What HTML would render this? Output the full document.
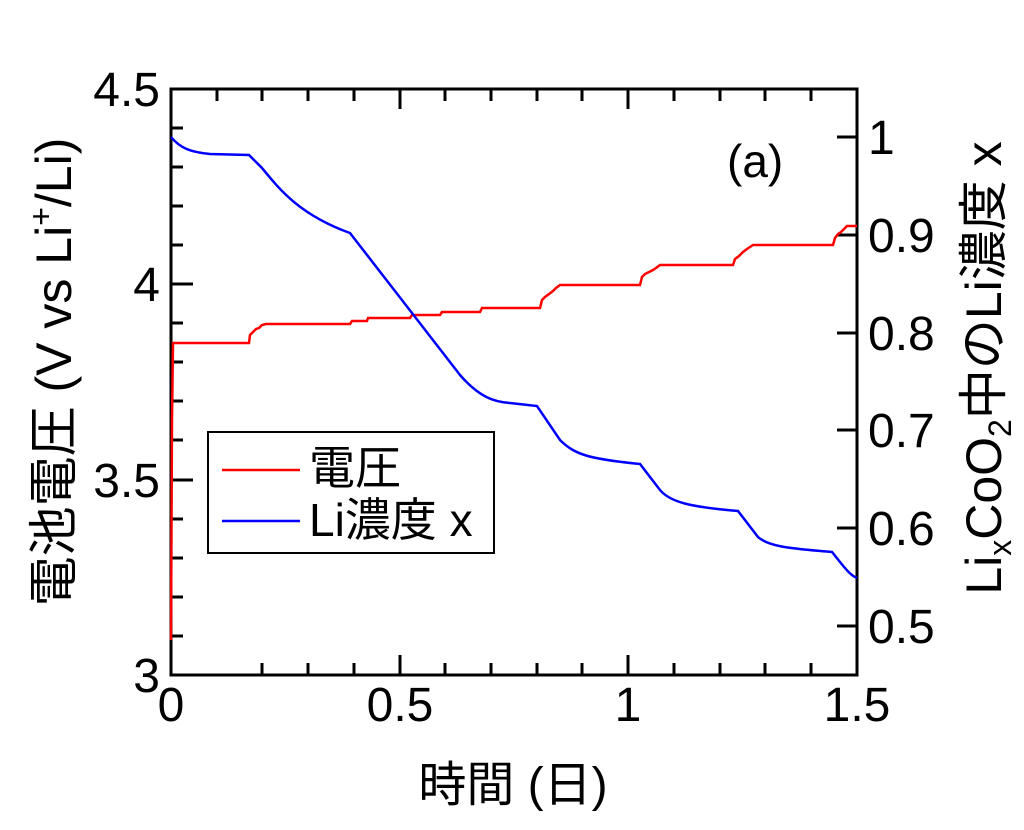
<!DOCTYPE html>
<html><head><meta charset="utf-8"><style>
body{margin:0;background:#fff}
svg text{font-family:"Liberation Sans","Noto Sans CJK JP",sans-serif;fill:#000}
</style></head><body>
<svg width="1024" height="825" viewBox="0 0 1024 825" xmlns="http://www.w3.org/2000/svg">
<g stroke="#000" stroke-width="3" fill="none">
<rect x="171" y="89" width="686" height="586"/>
<path d="M171 284h22M171 480h22M171 89h22
M171 128h12M171 167h12M171 206h12M171 245h12M171 323h12M171 362h12M171 401h12M171 440h12M171 519h12M171 558h12M171 597h12M171 636h12"/>
<path d="M857 137h-20M857 235h-20M857 333h-20M857 430h-20M857 528h-20M857 626h-20"/>
<path d="M400 675v-20M628 675v-20
M262 675v-12M308 675v-12M354 675v-12M445 675v-12M491 675v-12M537 675v-12M582 675v-12M674 675v-12M720 675v-12M765 675v-12M811 675v-12"/>
<path d="M400 89v20M628 89v20
M217 89v12M262 89v12M308 89v12M354 89v12M445 89v12M491 89v12M537 89v12M582 89v12M674 89v12M720 89v12M765 89v12M811 89v12"/>
</g>
<polyline fill="none" stroke="#ff0000" stroke-width="2.5" points="171,640 172,420 173,343 249,343 250,335 253,332 256,329 259,328 262,325 266,324 350,324 352,321 367,321 368,318 410,318 412,315 440,315 442,312 480,312 482,308 540,308 542,300 545,297 549,294 553,291 556,288 560,285 640,285 642,277 645,274 649,272 653,270 656,268 660,265 733,265 735,259 739,256 743,252 747,249 750,247 753,245 833,245 835,238 838,234 841,232 844,229 847,226 857,226"/>
<path fill="none" stroke="#0000ff" stroke-width="2.5" d="M171,137 C180,148 190,152 210,154 L249,155 L262,168 C280,190 300,215 350,233 L460,375 C480,398 495,402 510,403 L537,406 L560,440 C575,455 590,459 640,464 L660,490 C670,502 690,507 738,511 L758,537 C770,548 800,549 832,552 L840,562 C848,572 852,576 857,578"/>
<rect x="208" y="432" width="286" height="121" fill="#fff" stroke="#000" stroke-width="2"/>
<line x1="222" y1="470" x2="300" y2="470" stroke="#ff0000" stroke-width="2.5"/>
<line x1="222" y1="521" x2="300" y2="521" stroke="#0000ff" stroke-width="2.5"/>
<text x="309" y="484" font-size="46">電圧</text>
<text x="309" y="536" font-size="46">Li濃度 x</text>
<text x="727" y="177" font-size="46">(a)</text>
<g font-size="48" text-anchor="end">
<text x="160" y="106">4.5</text>
<text x="160" y="301">4</text>
<text x="160" y="497">3.5</text>
<text x="160" y="692">3</text>
</g>
<g font-size="48" text-anchor="start">
<text x="868" y="154">1</text>
<text x="868" y="252">0.9</text>
<text x="868" y="350">0.8</text>
<text x="868" y="447">0.7</text>
<text x="868" y="545">0.6</text>
<text x="868" y="643">0.5</text>
</g>
<g font-size="48" text-anchor="middle">
<text x="171" y="721">0</text>
<text x="400" y="721">0.5</text>
<text x="628" y="721">1</text>
<text x="857" y="721">1.5</text>
<text x="513" y="801">時間 (日)</text>
</g>
<text transform="translate(71,372) rotate(-90)" font-size="50" text-anchor="middle">電池電圧 (V vs Li<tspan font-size="32" dy="-19">+</tspan><tspan dy="19">/Li)</tspan></text>
<text transform="translate(1001,368) rotate(-90)" font-size="50" text-anchor="middle">Li<tspan font-size="32" dy="10">x</tspan><tspan dy="-10">CoO</tspan><tspan font-size="32" dy="10">2</tspan><tspan dy="-10">中のLi濃度 x</tspan></text>
</svg>
</body></html>
